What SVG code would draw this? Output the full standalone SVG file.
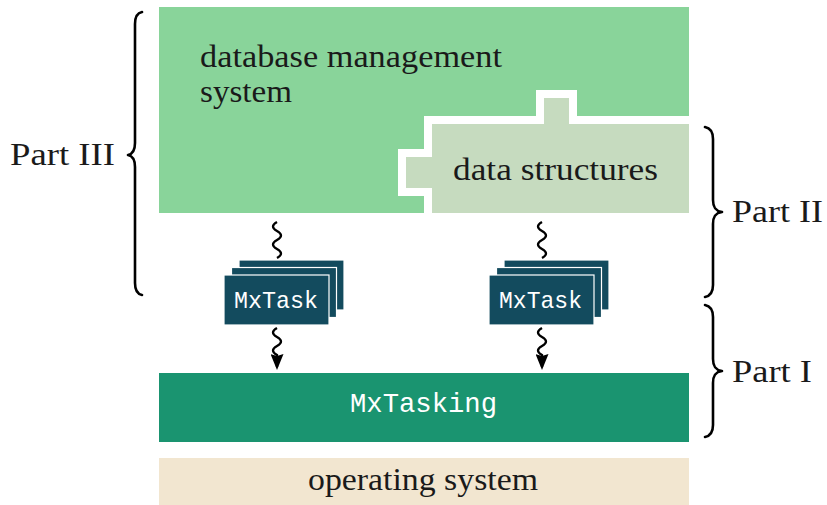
<svg xmlns="http://www.w3.org/2000/svg" width="827" height="505" viewBox="0 0 827 505">
  <style>
    .serif { font-family: "Liberation Serif", "Times New Roman", serif; font-size: 31px; fill: #1a1a1a; }
    .mono { font-family: "Liberation Mono", "Courier New", monospace; fill: #ffffff; }
    .task { fill: #134b5e; stroke: #ffffff; stroke-width: 1.2; }
    .brace { fill: none; stroke: #000000; stroke-width: 2.6; stroke-linecap: round; stroke-linejoin: round; }
    .snake { fill: none; stroke: #000000; stroke-width: 2.3; }
  </style>
  <defs>
    <clipPath id="dbmsClip">
      <rect x="159" y="7" width="530" height="206"/>
    </clipPath>
    <marker id="stealth" viewBox="0 0 16 13" refX="13" refY="6.5" markerWidth="16" markerHeight="13" markerUnits="userSpaceOnUse" orient="auto">
      <path d="M0,0 L16,6.5 L0,13 L2,6.5 z" fill="#000000"/>
    </marker>
    <!-- stack of three task cards, front card at origin -->
    <g id="taskStack">
      <rect class="task" x="15" y="-15" width="105" height="50"/>
      <rect class="task" x="7.5" y="-7.5" width="105" height="50"/>
      <rect class="task" x="0" y="0" width="105" height="50"/>
    </g>
  </defs>

  <!-- database management system -->
  <g id="dbms">
    <rect x="159" y="7" width="530" height="206" fill="#89d49a"/>
    <text class="serif" x="200" y="67" textLength="302" lengthAdjust="spacingAndGlyphs">database management</text>
    <text class="serif" x="200" y="102" textLength="92" lengthAdjust="spacingAndGlyphs">system</text>
  </g>

  <!-- data structures: puzzle-shaped inset with white outline -->
  <g id="data-structures">
    <path clip-path="url(#dbmsClip)" d="M432,240 V188 H406 V157 H432 V124 H544 V98 H569 V124 H720 V240 Z"
          fill="#c6dbbf" stroke="#ffffff" stroke-width="16" stroke-linejoin="miter" paint-order="stroke"/>
    <text class="serif" x="453" y="180" textLength="205" lengthAdjust="spacingAndGlyphs">data structures</text>
  </g>

  <!-- task stacks -->
  <g id="mxtask-left">
    <use href="#taskStack" x="224" y="275"/>
    <text class="mono" x="234" y="308" font-size="24" textLength="84" lengthAdjust="spacingAndGlyphs">MxTask</text>
  </g>
  <g id="mxtask-right">
    <use href="#taskStack" x="489" y="275"/>
    <text class="mono" x="499" y="308" font-size="24" textLength="83" lengthAdjust="spacingAndGlyphs">MxTask</text>
  </g>

  <!-- runtime layer -->
  <g id="mxtasking">
    <rect x="159" y="373" width="530" height="69" fill="#1a9470"/>
    <text class="mono" x="350" y="412" font-size="28" textLength="147" lengthAdjust="spacingAndGlyphs">MxTasking</text>
  </g>

  <!-- operating system layer -->
  <g id="operating-system">
    <rect x="159" y="458" width="530" height="47" fill="#f2e6d0"/>
    <text class="serif" x="308" y="490" textLength="230" lengthAdjust="spacingAndGlyphs">operating system</text>
  </g>

  <!-- wavy connectors -->
  <g id="connectors">
    <path class="snake" d="M277,222 q-8,4.5 0,9 t0,9 t0,9 t0,9"/>
    <path class="snake" d="M542,222 q-8,4.5 0,9 t0,9 t0,9 t0,9"/>
    <path class="snake" marker-end="url(#stealth)" d="M277,328 q-8,4.5 0,9 t0,9 t0,9 l0,12"/>
    <path class="snake" marker-end="url(#stealth)" d="M542,328 q-8,4.5 0,9 t0,9 t0,9 l0,12"/>
  </g>

  <!-- part braces -->
  <g id="part-3">
    <path class="brace" d="M142,12 C137,13 135,17 135,24 V143 C135,150 133,154 128,155 C133,156 135,160 135,167 V283 C135,290 137,294 142,295"/>
    <text class="serif" x="10" y="165" textLength="105" lengthAdjust="spacingAndGlyphs">Part III</text>
  </g>
  <g id="part-2">
    <path class="brace" d="M705,127 C710,128 713,132 713,139 V200 C713,207 715,211 722,212 C715,213 713,217 713,224 V285 C713,292 710,296 705,297"/>
    <text class="serif" x="732" y="222" textLength="91" lengthAdjust="spacingAndGlyphs">Part II</text>
  </g>
  <g id="part-1">
    <path class="brace" d="M705,305 C710,306 713,310 713,317 V359 C713,366 715,370 722,371 C715,372 713,376 713,383 V425 C713,432 710,436 705,437"/>
    <text class="serif" x="732" y="382" textLength="80" lengthAdjust="spacingAndGlyphs">Part I</text>
  </g>
</svg>
